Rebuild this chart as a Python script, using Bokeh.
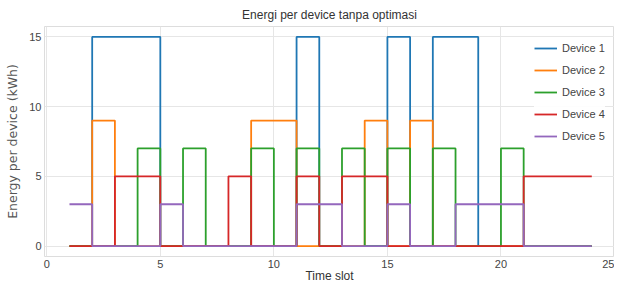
from bokeh.plotting import figure
from bokeh.models import Range1d, Legend, LegendItem
from bokeh.embed import file_html
from bokeh.resources import INLINE

time_slots = list(range(1, 25))
device_1 = [0, 15, 15, 15, 0, 0, 0, 0, 0, 0, 15, 0, 0, 0, 15, 0, 15, 15, 0, 0, 0, 0, 0, 0]
device_2 = [0, 9, 0, 0, 0, 0, 0, 0, 9, 9, 0, 0, 0, 9, 0, 9, 0, 0, 0, 0, 0, 0, 0, 0]
device_3 = [0, 0, 0, 7, 0, 7, 0, 0, 7, 0, 7, 0, 7, 0, 7, 0, 7, 0, 0, 7, 0, 0, 0, 0]
device_4 = [0, 0, 5, 5, 0, 0, 0, 5, 0, 0, 5, 0, 5, 5, 0, 0, 0, 0, 0, 0, 5, 5, 5, 5]
device_5 = [3, 0, 0, 0, 3, 0, 0, 0, 0, 0, 3, 3, 0, 0, 3, 0, 0, 3, 3, 3, 0, 0, 0, 0]
labels = ["Device 1", "Device 2", "Device 3", "Device 4", "Device 5"]
colors = ["#1f77b4", "#ff7f0e", "#2ca02c", "#d62728", "#9467bd"]
x_ticks = [0, 5, 10, 15, 20, 25]
y_ticks = [0, 5, 10, 15]

SANS = "Liberation Sans"

p = figure(width=614, height=285, output_backend="svg", toolbar_location=None,
           x_range=Range1d(-0.1, 25.0), y_range=Range1d(-0.75, 15.75),
           min_border_left=44, min_border_right=0, min_border_top=6, min_border_bottom=0)

p.title.text = "Energi per device tanpa optimasi"
p.title.align = "center"
p.title.text_font = SANS
p.title.text_font_size = "12px"
p.title.text_font_style = "normal"
p.title.text_color = "#333333"

items = []
for vals, lab, col in zip([device_1, device_2, device_3, device_4, device_5], labels, colors):
    r = p.step(time_slots, vals, mode="after", line_color=col, line_width=1.8)
    items.append(LegendItem(label=lab, renderers=[r]))

legend = Legend(items=items, location=(490, 112))
legend.border_line_color = None
legend.background_fill_alpha = 0.9
legend.label_text_font = SANS
legend.label_text_font_size = "11px"
legend.label_text_color = "#444444"
legend.glyph_width = 23
legend.glyph_height = 16
legend.label_height = 16
legend.label_standoff = 5
legend.spacing = 6
legend.padding = 6
legend.margin = 0
p.add_layout(legend)

for ax in (p.xaxis, p.yaxis):
    ax.axis_line_color = None
    ax.major_tick_line_color = None
    ax.minor_tick_line_color = None
    ax.major_tick_out = 0
    ax.major_tick_in = 0
    ax.major_label_text_font = SANS
    ax.major_label_text_font_size = "11px"
    ax.major_label_text_color = "#444444"

p.xaxis.ticker = x_ticks
p.yaxis.ticker = y_ticks
p.xaxis.major_label_standoff = 3
p.xaxis.axis_label = "Time slot"
p.xaxis.axis_label_text_font = SANS
p.xaxis.axis_label_text_font_size = "12px"
p.xaxis.axis_label_text_font_style = "normal"
p.xaxis.axis_label_text_color = "#333333"
p.xaxis.axis_label_standoff = -2

p.yaxis.axis_label = "Energy per device (kWh)"
p.yaxis.axis_label_text_font = "DejaVu Sans"
p.yaxis.axis_label_text_font_size = "12.5px"
p.yaxis.axis_label_text_font_style = "normal"
p.yaxis.axis_label_text_color = "#555555"
p.yaxis.axis_label_standoff = 6
p.yaxis.major_label_standoff = 3

p.xgrid.grid_line_color = "#e6e6e6"
p.ygrid.grid_line_color = "#e6e6e6"
p.outline_line_color = "#dddddd"
p.background_fill_color = "white"

open("out.html", "w").write(file_html(p, INLINE))
